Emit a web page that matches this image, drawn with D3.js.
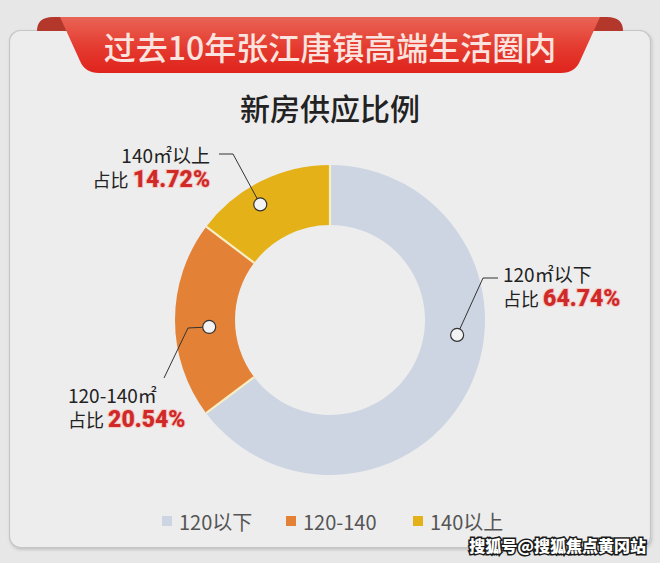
<!DOCTYPE html>
<html><head><meta charset="utf-8">
<script src="https://cdn.jsdelivr.net/npm/d3@7"></script>
<style>
html,body{margin:0;padding:0;background:#e7e7e7;}
svg{display:block;}
text{font-family:"Noto Sans CJK SC","Noto Sans",sans-serif;}
</style></head>
<body><svg id="chart" width="660" height="563"></svg>
<script>
// ---- data ----
const categories = ["120以下", "120-140", "140以上"];
const labelNames = ["120㎡以下", "120-140㎡", "140㎡以上"];
const shares = [64.74, 20.54, 14.72];
const colors = ["#cdd5e3", "#e38236", "#e4b118"];
const bannerTitle = "过去10年张江唐镇高端生活圈内";
const chartTitle = "新房供应比例";
const sharePrefix = "占比";
const watermark = "搜狐号@搜狐焦点黄冈站";

// ---- layout ----
const W = 660, H = 563;
const cx = 330, cy = 320, R = 155, r = 95;
const svg = d3.select("#chart");

const defs = svg.append("defs");
const g1 = defs.append("linearGradient").attr("id","rib").attr("x1",0).attr("y1",0).attr("x2",0).attr("y2",1);
g1.append("stop").attr("offset","0").attr("stop-color","#e86455");
g1.append("stop").attr("offset","0.55").attr("stop-color","#e53a2f");
g1.append("stop").attr("offset","1").attr("stop-color","#df231d");
const sh = defs.append("filter").attr("id","sh").attr("x","-5%").attr("y","-5%").attr("width","110%").attr("height","110%");
sh.append("feDropShadow").attr("dx",1).attr("dy",1.5).attr("stdDeviation",1.5).attr("flood-color","#000").attr("flood-opacity",0.18);

// card
svg.append("rect").attr("x",9.5).attr("y",30.5).attr("width",641).attr("height",517)
  .attr("rx",11).attr("fill","#ededed").attr("stroke","#c6c6c6").attr("stroke-width",1.2)
  .attr("filter","url(#sh)");

// ribbon tabs
svg.append("path").attr("d","M37,31 Q37,17 53,17 L72,17 L70,31 Z").attr("fill","#b3372b");
svg.append("path").attr("d","M590,31 L588,17 L607,17 Q623,17 623,31 Z").attr("fill","#b3372b");
// ribbon main
svg.append("path").attr("d","M60,17 L600,17 L580,61 Q575,73 561,73 L99,73 Q85,73 80,61 Z")
  .attr("fill","url(#rib)");
svg.append("text").attr("x",330).attr("y",46).attr("text-anchor","middle")
  .attr("dominant-baseline","central").attr("font-size",32).attr("font-weight",500)
  .attr("fill","#fbe4df").text(bannerTitle);

// subtitle
svg.append("text").attr("x",330).attr("y",107).attr("text-anchor","middle")
  .attr("dominant-baseline","central").attr("font-size",30).attr("font-weight",500)
  .attr("fill","#222").text(chartTitle);

// donut
const pie = d3.pie().sort(null).value(d => d).startAngle(0).endAngle(2*Math.PI);
const arcs = pie(shares);
const arc = d3.arc().innerRadius(r).outerRadius(R);
const color = d3.scaleOrdinal().domain(categories).range(colors);
const donut = svg.append("g").attr("transform",`translate(${cx},${cy})`);
donut.selectAll("path").data(arcs).join("path")
  .attr("d", arc).attr("fill",(d,i)=>color(categories[i]));
// separators between slices
donut.selectAll("line.sep").data(arcs).join("line").attr("class","sep")
  .attr("x1", d => r*Math.sin(d.startAngle)).attr("y1", d => -r*Math.cos(d.startAngle))
  .attr("x2", d => R*Math.sin(d.startAngle)).attr("y2", d => -R*Math.cos(d.startAngle))
  .attr("stroke","#f7eec6").attr("stroke-width",2.2);

// leaders + labels
const fmt = d3.format(".2f");
const polar = (deg, rad) => [cx + rad*Math.sin(deg*Math.PI/180), cy - rad*Math.cos(deg*Math.PI/180)];
const leaderCfg = [
  {ang: 96.7, rad: 128, pts: [[483,278],[498,278]], tx: 503, ty: 273, anchor: "start"},
  {ang: 266.7, rad: 121, pts: [[188,328],[164,378]], tx: 68, ty: 394, anchor: "start"},
  {ang: 328.9, rad: 135, pts: [[233,154],[219,154]], tx: 210, ty: 154, anchor: "end"}
];
categories.forEach((c, i) => {
  const L = leaderCfg[i];
  const dot = polar(L.ang, L.rad);
  svg.append("path").attr("d", d3.line()([dot, ...L.pts]))
    .attr("fill","none").attr("stroke","#333").attr("stroke-width",1);
  svg.append("circle").attr("cx",dot[0]).attr("cy",dot[1]).attr("r",6.5)
    .attr("fill","#f3f3f3").attr("stroke","#333").attr("stroke-width",1.2);
  svg.append("text").attr("x",L.tx).attr("y",L.ty).attr("text-anchor",L.anchor)
    .attr("dominant-baseline","central").attr("font-size",19).attr("fill","#222").text(labelNames[i]);
  const t2 = svg.append("text").attr("x",L.tx).attr("y",L.ty+25).attr("text-anchor",L.anchor)
    .attr("dominant-baseline","central").attr("fill","#222");
  t2.append("tspan").attr("font-size",18).text(sharePrefix + " ");
  t2.append("tspan").attr("font-size",23).attr("font-weight",900).attr("fill","#cf2a28")
    .attr("stroke","#f4c9c4").attr("stroke-width",2).attr("paint-order","stroke")
    .attr("font-family","Roboto,'Noto Sans',sans-serif")
    .text(fmt(shares[i]) + "%");
});

// legend
const legX = [162, 286, 413];
const leg = svg.append("g");
categories.forEach((c, i) => {
  leg.append("rect").attr("x",legX[i]).attr("y",516).attr("width",10).attr("height",10).attr("fill",color(c));
  leg.append("text").attr("x",legX[i]+17).attr("y",521).attr("dominant-baseline","central")
    .attr("font-size",20).attr("fill","#555").text(c);
});

// watermark
svg.append("text").attr("x",646).attr("y",545).attr("text-anchor","end")
  .attr("dominant-baseline","central").attr("font-size",16).attr("font-weight",900)
  .attr("fill","#fff").attr("stroke","#1a1a1a").attr("stroke-width",3).attr("paint-order","stroke")
  .text(watermark);
</script></body></html>
